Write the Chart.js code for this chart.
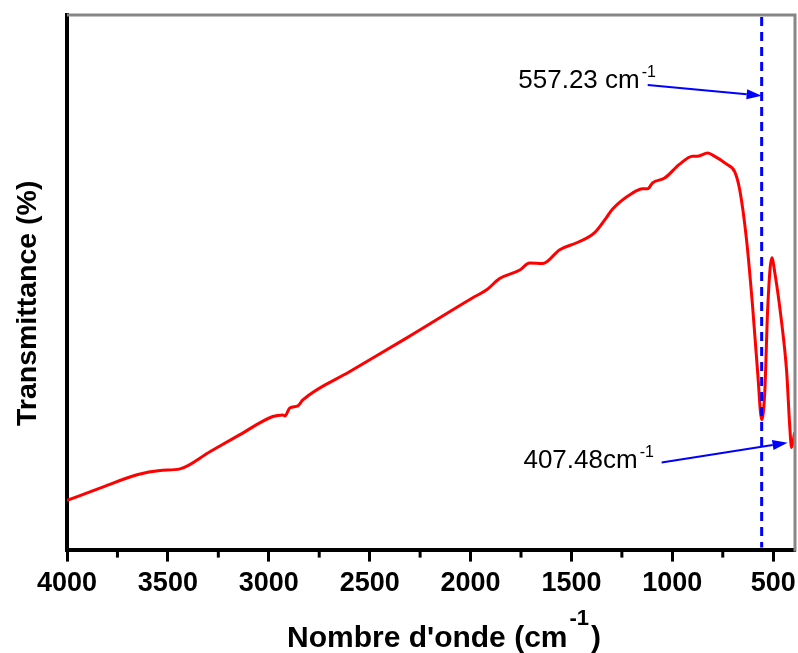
<!DOCTYPE html>
<html>
<head>
<meta charset="utf-8">
<script src="https://cdn.jsdelivr.net/npm/chart.js@4"></script>
<style>
  html, body { margin: 0; padding: 0; background: #fff; }
  #wrap { width: 798px; height: 653px; }
</style>
</head>
<body>
<div id="wrap"><canvas id="ftir-chart"></canvas></div>
<script>
// Spectrum (wavenumber in cm-1, transmittance in %)
const wavenumbers = [4000, 3837, 3653, 3539, 3440, 3292, 3143, 2980, 2930, 2920, 2896, 2856, 2831, 2598, 2316,
  1989, 1920, 1856, 1756, 1707, 1642, 1558, 1474, 1385, 1325, 1296, 1197, 1147, 1122, 1098, 1038, 964, 900, 875,
  825, 800, 731, 691, 666, 632, 602, 577, 557, 542, 527, 507, 492, 458, 433, 418, 409, 394];
const transmittance = [9.2, 11.5, 14.0, 14.8, 15.1, 18.3, 21.5, 24.9, 25.2, 25.0, 26.5, 26.9, 28.0, 33.3, 39.6,
  47.1, 48.6, 50.7, 52.3, 53.6, 53.5, 56.1, 57.4, 59.3, 62.2, 63.7, 66.7, 67.5, 67.5, 68.6, 69.5, 72.1, 73.6, 73.6,
  74.2, 73.8, 72.1, 70.7, 67.3, 57.9, 45.4, 33.1, 24.3, 29.3, 45.4, 54.6, 51.8, 42.4, 33.1, 23.0, 19.1, 21.9];

// x axis ticks
const majorTicks = [4000, 3500, 3000, 2500, 2000, 1500, 1000, 500];
const minorTicks = [3750, 3250, 2750, 2250, 1750, 1250, 750];

// peak annotations: arrow from (fromX, fromY) to (toX, toY) in data units
const peakLine = 557.23;
const peakNotes = [
  { text: '557.23 cm', fromX: 1122, fromY: 86.9, toX: 557.23, toY: 84.9, dx: -8, dy: 3 },
  { text: '407.48cm', fromX: 1053, fromY: 16.3, toX: 429, toY: 20.0, dx: -24, dy: 6 }
];

Chart.defaults.font.family = "'Liberation Sans', Arial, sans-serif";
Chart.defaults.color = '#000';

function drawArrow(ctx, x1, y1, x2, y2) {
    const ang = Math.atan2(y2 - y1, x2 - x1);
    const len = 15, half = 5;
    ctx.beginPath();
    ctx.moveTo(x1, y1);
    ctx.lineTo(x2 - len * Math.cos(ang), y2 - len * Math.sin(ang));
    ctx.stroke();
    ctx.beginPath();
    ctx.moveTo(x2, y2);
    ctx.lineTo(x2 - len * Math.cos(ang) + half * Math.sin(ang), y2 - len * Math.sin(ang) - half * Math.cos(ang));
    ctx.lineTo(x2 - len * Math.cos(ang) - half * Math.sin(ang), y2 - len * Math.sin(ang) + half * Math.cos(ang));
    ctx.closePath();
    ctx.fill();
}

const decorations = {
    id: 'decorations',
    afterDraw(chart) {
        const { ctx, chartArea: a, scales: { x, y } } = chart;
        ctx.save();

        // grey top/right frame
        ctx.strokeStyle = '#878787';
        ctx.lineWidth = 3;
        ctx.beginPath();
        ctx.moveTo(a.left, a.top);
        ctx.lineTo(a.right, a.top);
        ctx.lineTo(a.right, a.bottom + 2);
        ctx.stroke();

        // minor ticks
        ctx.strokeStyle = '#000';
        ctx.lineWidth = 3;
        minorTicks.forEach(v => {
            const px = x.getPixelForValue(v);
            ctx.beginPath();
            ctx.moveTo(px, a.bottom);
            ctx.lineTo(px, a.bottom + 8);
            ctx.stroke();
        });

        // dashed peak line
        const lx = x.getPixelForValue(peakLine);
        ctx.strokeStyle = '#0000ff';
        ctx.lineWidth = 3;
        ctx.setLineDash([9, 6]);
        ctx.beginPath();
        ctx.moveTo(lx, a.top + 2);
        ctx.lineTo(lx, a.bottom - 2);
        ctx.stroke();
        ctx.setLineDash([]);

        // arrows + labels
        ctx.lineWidth = 2;
        peakNotes.forEach(n => {
            const x1 = x.getPixelForValue(n.fromX), y1 = y.getPixelForValue(n.fromY);
            const x2 = x.getPixelForValue(n.toX), y2 = y.getPixelForValue(n.toY);
            ctx.fillStyle = '#0000ff';
            drawArrow(ctx, x1, y1, x2, y2);
            ctx.fillStyle = '#000';
            ctx.textBaseline = 'alphabetic';
            ctx.font = "26px 'Liberation Sans', Arial, sans-serif";
            ctx.textAlign = 'right';
            const tx = x1 + n.dx, ty = y1 + n.dy;
            ctx.fillText(n.text, tx, ty);
            ctx.textAlign = 'left';
            ctx.font = "16px 'Liberation Sans', Arial, sans-serif";
            ctx.fillText('-1', tx + 2, ty - 11);
        });

        // y axis title
        ctx.fillStyle = '#000';
        ctx.font = "bold 28.5px 'Liberation Sans', Arial, sans-serif";
        ctx.save();
        ctx.translate(a.left - 39, (a.top + a.bottom) / 2 + 21);
        ctx.rotate(-Math.PI / 2);
        ctx.textAlign = 'center';
        ctx.textBaseline = 'middle';
        ctx.fillText('Transmittance (%)', 0, 0);
        ctx.restore();

        // x axis title with superscript
        const big = "bold 30px 'Liberation Sans', Arial, sans-serif";
        const small = "bold 22px 'Liberation Sans', Arial, sans-serif";
        ctx.textAlign = 'left';
        ctx.textBaseline = 'alphabetic';
        const part1 = "Nombre d'onde (cm", sup = '-1', part2 = ')';
        ctx.font = big;
        const w1 = ctx.measureText(part1).width;
        ctx.font = small;
        const w2 = ctx.measureText(sup).width;
        const sx = a.left + 220;
        const base = 647;
        ctx.font = big;
        ctx.fillText(part1, sx, base);
        ctx.font = small;
        ctx.fillText(sup, sx + w1 + 2, base - 22);
        ctx.font = big;
        ctx.fillText(part2, sx + w1 + w2 + 4, base);

        ctx.restore();
    }
};

const ctx = document.getElementById('ftir-chart');
const ftirChart = new Chart(ctx, {
    type: 'line',
    data: {
        datasets: [{
            label: 'FTIR',
            data: wavenumbers.map((w, i) => ({ x: w, y: transmittance[i] })),
            borderColor: '#ff0000',
            borderWidth: 3,
            pointRadius: 0,
            fill: false,
            cubicInterpolationMode: 'monotone'
        }]
    },
    options: {
        animation: false,
        responsive: true,
        maintainAspectRatio: false,
        layout: { padding: { left: 67, top: 15, right: 3, bottom: 47 } },
        plugins: { legend: { display: false }, tooltip: { enabled: false } },
        scales: {
            x: {
                type: 'linear',
                reverse: true,
                min: 392,
                max: 4000,
                afterBuildTicks: scale => { scale.ticks = majorTicks.map(v => ({ value: v })); },
                afterFit: scale => { scale.paddingLeft = 0; scale.paddingRight = 0; },
                ticks: {
                    autoSkip: false,
                    maxRotation: 0,
                    padding: 6,
                    font: { size: 27, weight: 'bold' },
                    callback: v => String(v)
                },
                grid: { drawOnChartArea: false, tickLength: 12, tickWidth: 3, tickColor: '#000' },
                border: { color: '#000', width: 4 }
            },
            y: {
                min: 0,
                max: 100,
                ticks: { display: false },
                grid: { display: false, drawTicks: false },
                border: { color: '#000', width: 4 },
                title: { display: false }
            }
        }
    },
    plugins: [decorations]
});
</script>
</body>
</html>
